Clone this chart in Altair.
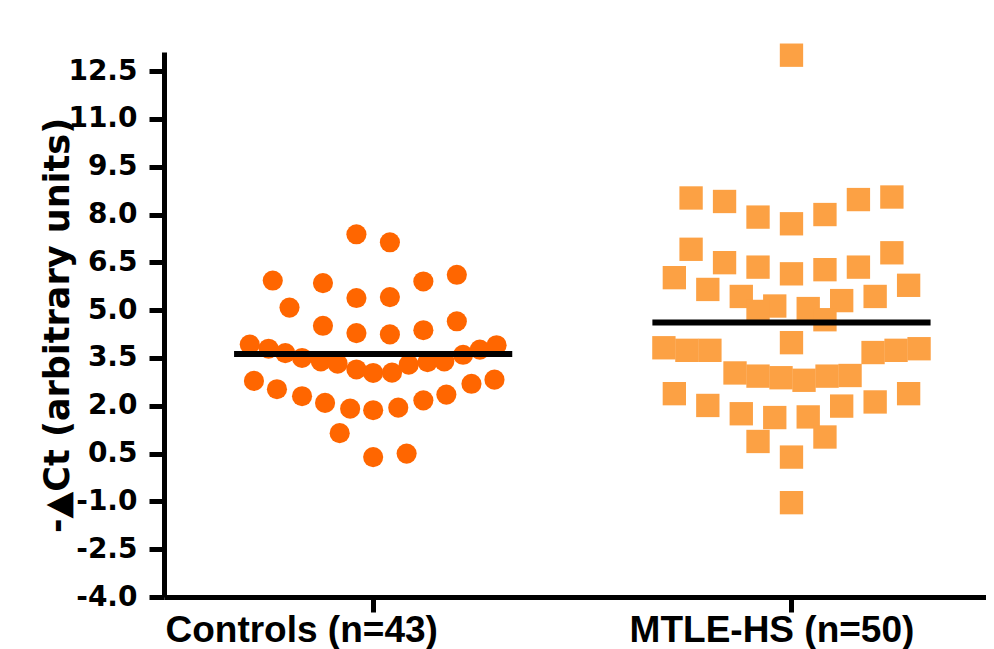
import altair as alt
import pandas as pd

# ---- data ----
groups = ["Controls (n=43)", "MTLE-HS (n=50)"]

# horizontal scatter offset of each point from its group centre (x units)
controls_offset = [-0.08, 0.08, -0.48, -0.24, 0.24, 0.40, -0.08, 0.08, -0.40, -0.24,
                   -0.08, 0.08, 0.24, 0.40, -0.59, -0.50, -0.42, -0.34, -0.25, -0.17,
                   -0.08, 0.00, 0.09, 0.17, 0.26, 0.34, 0.43, 0.51, 0.59, -0.57,
                   -0.46, -0.34, -0.23, -0.11, 0.00, 0.12, 0.24, 0.35, 0.47, 0.58,
                   -0.16, 0.00, 0.16]
controls_value = [7.38, 7.13, 5.93, 5.85, 5.90, 6.11, 5.38, 5.41, 5.08, 4.51,
                  4.28, 4.24, 4.37, 4.65, 3.92, 3.79, 3.65, 3.50, 3.39, 3.32,
                  3.14, 3.03, 3.04, 3.29, 3.37, 3.39, 3.60, 3.76, 3.90, 2.78,
                  2.52, 2.30, 2.09, 1.91, 1.86, 1.94, 2.17, 2.35, 2.69, 2.82,
                  1.14, 0.39, 0.50]

mtle_offset = [0.00, -0.48, -0.32, -0.16, 0.00, 0.16, 0.32, 0.48, -0.48, 0.48,
               -0.56, -0.32, -0.16, 0.00, 0.16, 0.32, 0.56, -0.40, -0.24, 0.40,
               -0.08, 0.24, -0.16, 0.08, 0.16, 0.00, -0.61, -0.50, -0.39, 0.39,
               0.50, 0.61, -0.27, -0.16, -0.05, 0.06, 0.17, 0.28, -0.56, 0.56,
               -0.40, 0.40, -0.24, 0.24, -0.08, 0.08, -0.16, 0.16, 0.00, 0.00]
mtle_value = [13.00, 8.52, 8.41, 7.92, 7.71, 8.00, 8.47, 8.55, 6.91, 6.80,
              6.02, 6.49, 6.35, 6.14, 6.27, 6.35, 5.78, 5.65, 5.43, 5.43,
              5.13, 5.30, 4.96, 5.05, 4.70, 3.98, 3.82, 3.74, 3.74, 3.67,
              3.74, 3.79, 3.03, 2.93, 2.88, 2.80, 2.93, 2.95, 2.38, 2.38,
              2.01, 2.12, 1.75, 1.99, 1.63, 1.65, 0.88, 1.02, 0.39, -1.04]

y_ticks = [-4.0, -2.5, -1.0, 0.5, 2.0, 3.5, 5.0, 6.5, 8.0, 9.5, 11.0, 12.5]

df = pd.DataFrame({
    "group": [groups[0]] * len(controls_value) + [groups[1]] * len(mtle_value),
    "offset": controls_offset + mtle_offset,
    "value": controls_value + mtle_value,
})

# ---- scales / axes ----
x_scale = alt.Scale(domain=[0, 3.93], nice=False, zero=False)
y_scale = alt.Scale(domain=[-4, 13.1], nice=False, zero=False)

x_axis = alt.Axis(
    values=[1, 3],
    labelExpr=f"datum.value == 1 ? '{groups[0]}' : '{groups[1]}'",
    title=None, grid=False,
    domainColor="black", domainWidth=5,
    tickColor="black", tickWidth=5, tickSize=15,
    labelFont="Liberation Sans", labelFontSize=37, labelFontWeight="bold",
    labelColor="black", labelPadding=0, labelFlush=False, labelOverlap=False,
    labelLimit=600,
    labelOffset={"condition": {"test": "datum.value == 1", "value": -72}, "value": -20},
)
y_axis = alt.Axis(
    values=y_ticks,
    labelExpr="replace(format(datum.value, '.1f'), '\u2212', '-')",
    title="-\u25b2Ct (arbitrary units)",
    titleFont="DejaVu Sans", titleFontSize=35, titleFontWeight="bold",
    titleColor="black", titleAngle=270, titleX=-96, titleY=273,
    titleBaseline="alphabetic", titleAlign="center", titleLimit=800,
    grid=False,
    domainColor="black", domainWidth=5,
    tickColor="black", tickWidth=5, tickSize=15,
    labelFont="DejaVu Sans", labelFontSize=28, labelFontWeight="bold",
    labelColor="black", labelPadding=12, labelFlush=False, labelOverlap=False,
    labelLimit=300,
)

base = alt.Chart(df).transform_calculate(
    center=f"datum.group == '{groups[0]}' ? 1 : 3"
).transform_calculate(
    xpos="datum.center + datum.offset"
)

controls = base.transform_filter(
    alt.datum.group == groups[0]
).mark_circle(size=405, color="#FF6600", opacity=1).encode(
    x=alt.X("xpos:Q", scale=x_scale, axis=x_axis),
    y=alt.Y("value:Q", scale=y_scale, axis=y_axis),
)

mtle = base.transform_filter(
    alt.datum.group == groups[1]
).mark_square(size=545, color="#FCA144", opacity=1).encode(
    x=alt.X("xpos:Q", scale=x_scale, axis=x_axis),
    y=alt.Y("value:Q", scale=y_scale, axis=y_axis),
)

means = base.transform_aggregate(
    mean="mean(value)", groupby=["group", "center"]
).transform_calculate(
    x1="datum.center - 0.665", x2="datum.center + 0.665"
).mark_rule(color="black", strokeWidth=6).encode(
    x=alt.X("x1:Q", scale=x_scale, axis=x_axis),
    x2="x2:Q",
    y=alt.Y("mean:Q", scale=y_scale, axis=y_axis),
)

chart = alt.layer(controls, mtle, means).properties(
    width=822, height=545,
    autosize=alt.AutoSizeParams(type="none"),
    padding={"left": 156, "top": 44, "right": 0, "bottom": 52},
).configure_view(strokeWidth=0)

chart.save("out.html", embed_options={"renderer": "svg", "actions": False})
